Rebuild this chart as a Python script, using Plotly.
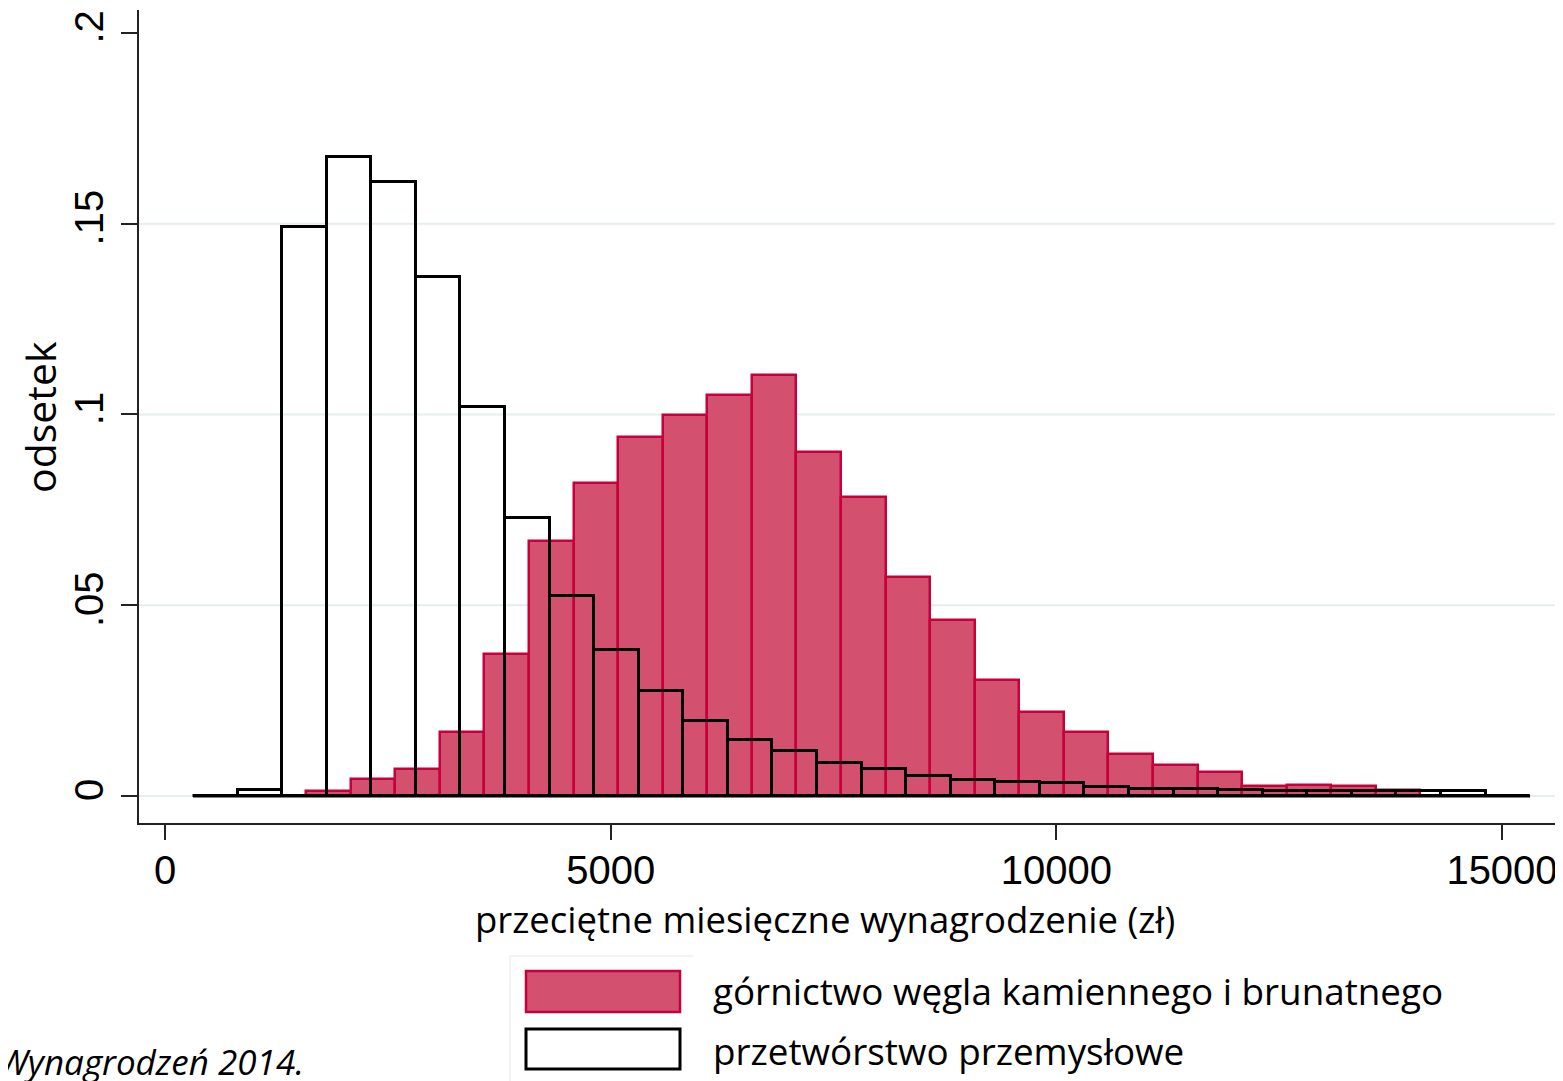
import plotly.graph_objects as go

# ---------------- data ----------------
bin_width = 500
white_start = 315   # przetwórstwo przemysłowe: first bin edge (zł)
red_start = 1584    # górnictwo: first bin edge (zł)

przetworstwo = [0.0, 0.0016, 0.149, 0.1674, 0.161, 0.136, 0.102, 0.0729, 0.0524, 0.0383,
                0.0275, 0.0197, 0.0147, 0.0118, 0.0087, 0.0071, 0.0053, 0.0041, 0.0037, 0.0033,
                0.0023, 0.0018, 0.0019, 0.0017, 0.0013, 0.0013, 0.0012, 0.0012, 0.0012, 0.0]

gornictwo = [0.0013, 0.0045, 0.0072, 0.0168, 0.0372, 0.0668, 0.082, 0.094, 0.0999, 0.1051,
             0.1104, 0.0902, 0.0784, 0.0574, 0.0461, 0.0304, 0.0221, 0.0168, 0.011, 0.0081,
             0.0063, 0.0025, 0.003, 0.0025, 0.0017]

x_ticks = [0, 5000, 10000, 15000]
x_tick_labels = ["0", "5000", "10000", "15000"]
y_ticks = [0, 0.05, 0.1, 0.15, 0.2]
y_tick_labels = ["0", ".05", ".1", ".15", ".2"]
grid_vals = [0, 0.05, 0.1, 0.15]

series_names = ["górnictwo węgla kamiennego i brunatnego", "przetwórstwo przemysłowe"]
x_title = "przeciętne miesięczne wynagrodzenie (zł)"
y_title = "odsetek"
source_text = "Wynagrodzeń 2014."

# ---------------- styling ----------------
RED_FILL = "#D3516F"
RED_LINE = "#C5003A"
GRID = "#E6EDEE"
OFF = 8                      # page body margin
PAGE_W, PAGE_H = 1563, 1081
W, H = PAGE_W - OFF, PAGE_H - OFF
# plot area in page pixels
PX0, PX1, PY0, PY1 = 139, 1556, 10, 823
L, R, T, B = PX0 - OFF, PAGE_W - PX1, PY0 - OFF, PAGE_H - PY1
PW, PH = PX1 - PX0, PY1 - PY0

def px(xp):
    return (xp - PX0) / PW

def py(yp):
    return (PY1 - yp) / PH

def centers(start, n):
    return [start + bin_width * (i + 0.5) for i in range(n)]

fig = go.Figure()

fig.add_trace(go.Bar(
    x=centers(red_start, len(gornictwo)), y=gornictwo, width=bin_width,
    marker=dict(color=RED_FILL, line=dict(color=RED_LINE, width=2.5)),
    name=series_names[0], showlegend=False,
))
fig.add_trace(go.Bar(
    x=centers(white_start, len(przetworstwo)), y=przetworstwo, width=bin_width,
    marker=dict(color="rgba(0,0,0,0)", line=dict(color="black", width=3)),
    name=series_names[1], showlegend=False,
))
# baseline of the outlined histogram
fig.add_trace(go.Scatter(
    x=[white_start, white_start + bin_width * len(przetworstwo)], y=[0, 0],
    mode="lines", line=dict(color="black", width=3), showlegend=False, hoverinfo="skip",
))

shapes = []
for g in grid_vals:
    shapes.append(dict(type="line", xref="paper", x0=0, x1=1, yref="y", y0=g, y1=g,
                       line=dict(color=GRID, width=2), layer="below"))

# manual legend
shapes.append(dict(type="line", xref="paper", yref="paper", x0=px(510), x1=px(510),
                   y0=py(956), y1=py(1085), line=dict(color="#EEF1F1", width=1.5)))
shapes.append(dict(type="line", xref="paper", yref="paper", x0=px(510), x1=px(693),
                   y0=py(956), y1=py(956), line=dict(color="#EEF1F1", width=1.5)))
shapes.append(dict(type="rect", xref="paper", yref="paper", x0=px(526), x1=px(680),
                   y0=py(1012), y1=py(971), fillcolor=RED_FILL, line=dict(color=RED_LINE, width=2.5)))
shapes.append(dict(type="rect", xref="paper", yref="paper", x0=px(526), x1=px(680),
                   y0=py(1069), y1=py(1029), fillcolor="white", line=dict(color="black", width=3)))

TITLE_FONT = "Open Sans"
annotations = [
    dict(text=x_title, xref="paper", yref="paper", x=px(825), y=py(919),
         xanchor="center", yanchor="middle", showarrow=False,
         font=dict(family=TITLE_FONT, size=36.5, color="black")),
    dict(text=y_title, xref="paper", yref="paper", x=px(40), y=py(417),
         xanchor="center", yanchor="middle", showarrow=False, textangle=-90,
         font=dict(family=TITLE_FONT, size=41, color="black")),
    dict(text=series_names[0], xref="paper", yref="paper", x=px(711), y=py(991),
         xanchor="left", yanchor="middle", showarrow=False,
         font=dict(family=TITLE_FONT, size=36.8, color="black")),
    dict(text=series_names[1], xref="paper", yref="paper", x=px(711), y=py(1051),
         xanchor="left", yanchor="middle", showarrow=False,
         font=dict(family=TITLE_FONT, size=36.8, color="black")),
    dict(text="<i>" + source_text + "</i>", xref="paper", yref="paper", x=px(306), y=py(1061),
         xanchor="right", yanchor="middle", showarrow=False,
         font=dict(family=TITLE_FONT, size=35, color="black")),
]

fig.update_layout(
    width=W, height=H,
    margin=dict(l=L, r=R, t=T, b=B, pad=0),
    paper_bgcolor="white", plot_bgcolor="white",
    barmode="overlay", bargap=0,
    shapes=shapes, annotations=annotations,
    showlegend=False,
    xaxis=dict(range=[-292, 15606], tickvals=x_ticks, ticktext=x_tick_labels,
               showgrid=False, zeroline=False, showline=True, linecolor="#222", linewidth=1.5,
               ticks="outside", ticklen=15, tickwidth=1.5, tickcolor="#222",
               tickfont=dict(family="Liberation Sans", size=40, color="black"),
               ticklabelstandoff=-4),
    yaxis=dict(range=[-0.00708, 0.2060], tickvals=y_ticks, ticktext=y_tick_labels,
               showgrid=False, zeroline=False, showline=True, linecolor="#222", linewidth=1.5,
               ticks="outside", ticklen=16, tickwidth=1.5, tickcolor="#222", tickangle=-90,
               tickfont=dict(family="Liberation Sans", size=40, color="black"),
               ticklabelstandoff=2),
)

fig.write_html("out.html")
